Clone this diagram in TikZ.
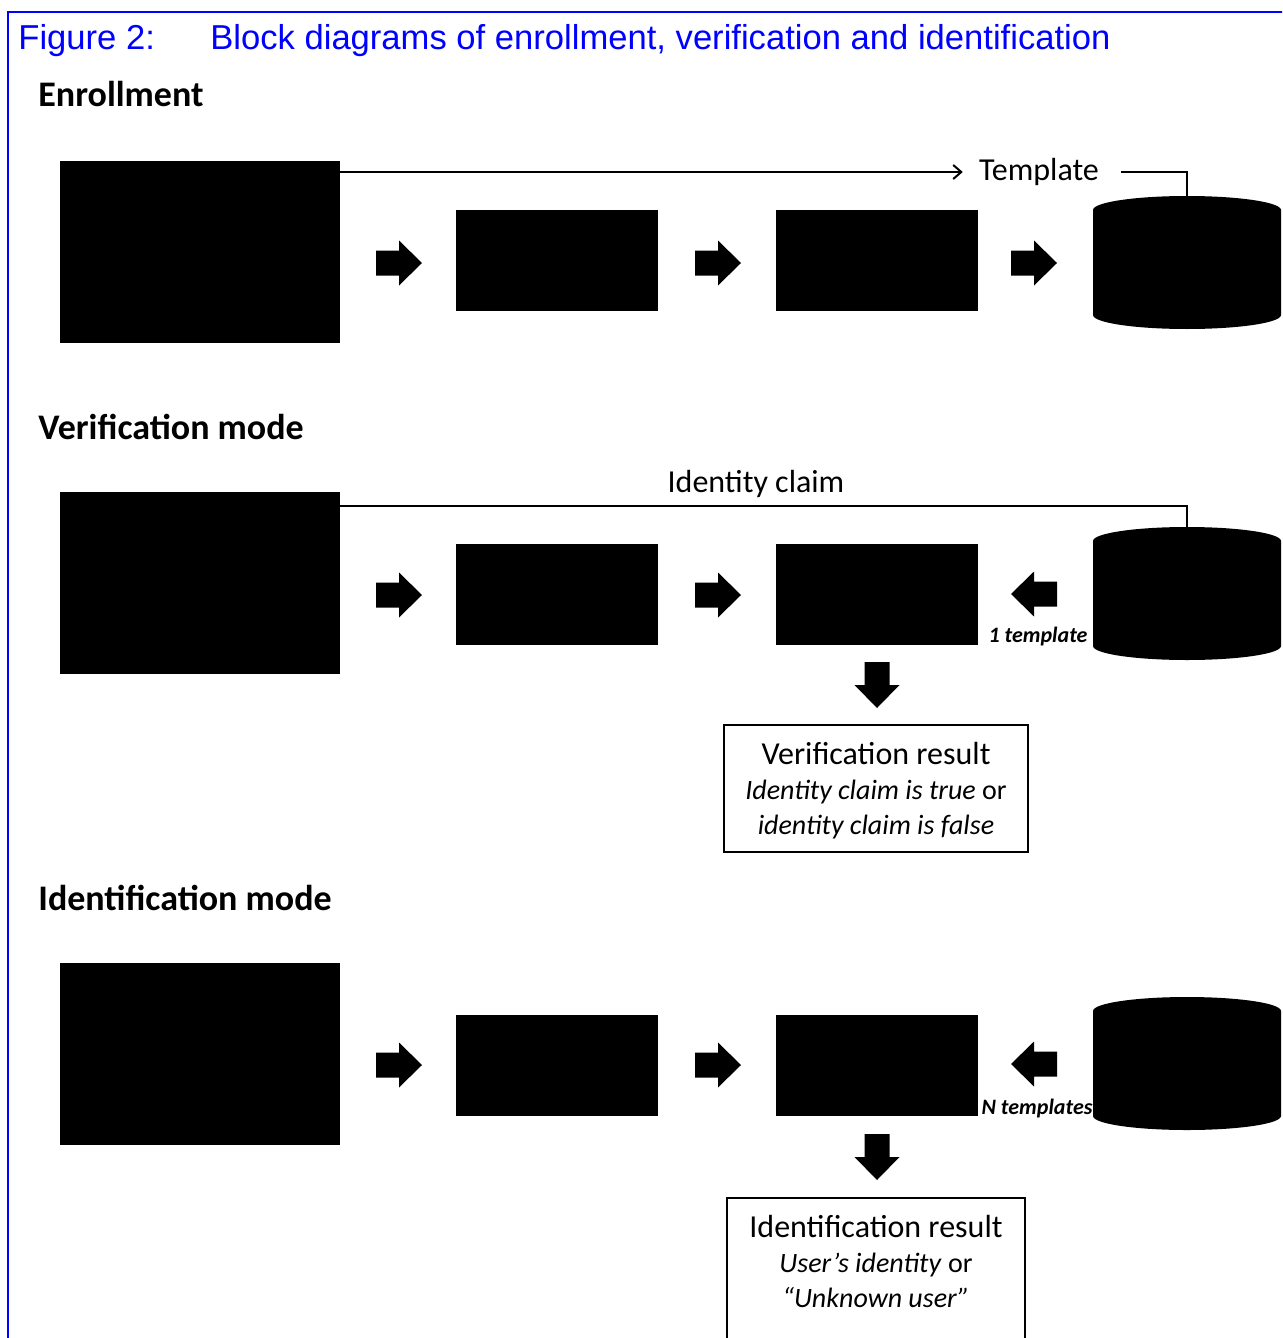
\documentclass[tikz,border=0pt]{standalone}
\usepackage{fontspec}
\setmainfont{Carlito}
\newfontfamily\titlefont{Liberation Sans}
\usetikzlibrary{arrows.meta}
\definecolor{capblue}{RGB}{0,0,255}
\begin{document}
\begin{tikzpicture}[x=0.5pt, y=-0.5pt,
  blk/.style={fill=black, draw=none, inner sep=0pt, outer sep=0pt},
  bigbox/.style={blk, minimum width=140pt, minimum height=91pt},
  procbox/.style={blk, minimum width=101pt, minimum height=50.5pt},
  conn/.style={line width=1pt},
  heading/.style={font=\fontsize{18}{20}\selectfont\bfseries, anchor=base west, inner sep=0pt},
  lbl/.style={font=\fontsize{16}{18}\selectfont, inner sep=0pt},
  small/.style={font=\fontsize{11}{12}\selectfont\bfseries\itshape, inner sep=0pt},
  resframe/.style={draw, line width=1.2pt, inner sep=0pt},
  restext/.style={font=\fontsize{14}{17.5}\selectfont, align=center, inner sep=0pt},
  titletext/.style={font=\titlefont\fontsize{17.3}{20}\selectfont, text=capblue, anchor=base west, inner sep=0pt},
  barrow/.pic={\fill (-23,-12.5) -- (0,-12.5) -- (0,-22.5) -- (23,0) -- (0,22.5) -- (0,12.5) -- (-23,12.5) -- cycle;},
  dbase/.pic={\fill (-94,-52.5) -- (-94,52.5) arc[start angle=180, end angle=0, x radius=94, y radius=14]
                 -- (94,-52.5) arc[start angle=0, end angle=-180, x radius=94, y radius=14] -- cycle;
              \coordinate (-top) at (0,-66.5);}
]
\useasboundingbox (0,0) rectangle (1282,1338);
\clip (0,0) rectangle (1282,1338);

% frame and title
\draw[capblue, line width=1.2pt] (8,1345) -- (8,12) -- (1290,12);
\node[titletext] (fig) at (18,50) {Figure 2:};
\node[titletext] (cap) at (210,50) {Block diagrams of enrollment, verification and identification};

% ---------- Enrollment ----------
\node[heading] (h1) at (38,107) {Enrollment};
\node[bigbox] (e1) at (200,252) {};
\node[procbox] (e2) at (557,260.5) {};
\node[procbox] (e3) at (876.5,260.5) {};
\pic (db1) at (1187,262.5) {dbase};
\pic at (399,263) {barrow};
\pic at (718,263) {barrow};
\pic at (1034,263) {barrow};
\node[lbl, inner xsep=8pt] (tpl) at (1039,172) {Template};
\draw[conn, -{Straight Barb[length=4pt, width=7pt]}] (e1.east |- tpl.west) -- (tpl.west);
\draw[conn] ([xshift=3pt]tpl.east) -| (db1-top);

% ---------- Verification ----------
\node[heading] (h2) at (38,439) {Verification mode};
\node[bigbox] (v1) at (200,582.5) {};
\node[procbox] (v2) at (557,594) {};
\node[procbox] (v3) at (876.5,594) {};
\pic (db2) at (1187,593.5) {dbase};
\pic at (399,595) {barrow};
\pic at (718,595) {barrow};
\pic[rotate=180] at (1034,594) {barrow};
\pic[rotate=-90] at (877,685) {barrow};
\node[lbl] (claim) at (756,484) {Identity claim};
\draw[conn] ([yshift=-7pt]v1.north east) -| (db2-top);
\node[small] (one) at (1038,637) {1 template};
\node[resframe, minimum width=152pt, minimum height=63.5pt] (vbox) at (876,788.5) {};
\node[restext] (vres) at (876,791)
  {{\fontsize{16}{17.5}\selectfont Verification result}\\ \textit{Identity claim is true} or\\ \textit{identity claim is false}};

% ---------- Identification ----------
\node[heading] (h3) at (38,910) {Identification mode};
\node[bigbox] (i1) at (200,1053.5) {};
\node[procbox] (i2) at (557,1065.5) {};
\node[procbox] (i3) at (876.5,1065.5) {};
\pic (db3) at (1187,1063.5) {dbase};
\pic at (399,1065) {barrow};
\pic at (718,1065) {barrow};
\pic[rotate=180] at (1034,1064) {barrow};
\pic[rotate=-90] at (877,1157) {barrow};
\node[small] (many) at (1037,1108) {N templates};
\node[resframe, minimum width=149pt, minimum height=110pt, anchor=north] (ibox) at (876,1197) {};
\node[restext] (ires) at (876,1261)
  {{\fontsize{16}{17.5}\selectfont Identification result}\\ \textit{User’s identity} or\\ \textit{“Unknown user”}};
\end{tikzpicture}
\end{document}
